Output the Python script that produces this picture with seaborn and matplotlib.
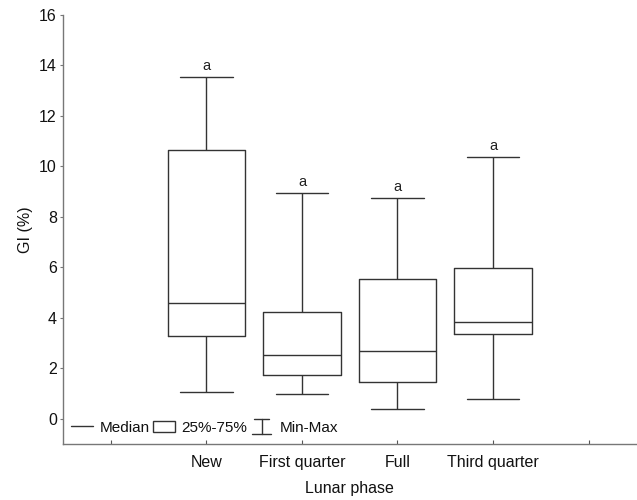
import numpy as np
import pandas as pd
import seaborn as sns
import matplotlib
matplotlib.use("Agg")
import matplotlib.pyplot as plt
from matplotlib.lines import Line2D
from matplotlib.patches import Rectangle
from matplotlib.legend_handler import HandlerBase

# ---- data ----
phases = ["New", "First quarter", "Full", "Third quarter"]
mins = [1.05, 0.97, 0.37, 0.77]
q1s = [3.28, 1.75, 1.45, 3.36]
medians = [4.58, 2.53, 2.67, 3.84]
q3s = [10.65, 4.22, 5.52, 5.97]
maxs = [13.56, 8.95, 8.75, 10.38]
letters = ["a", "a", "a", "a"]
yticks = [0, 2, 4, 6, 8, 10, 12, 14, 16]

rows = []
for p, a, b, c, d, e in zip(phases, mins, q1s, medians, q3s, maxs):
    for v in (a, b, c, d, e):
        rows.append({"phase": p, "gi": v})
df = pd.DataFrame(rows)
order = [""] + phases + [" "]

sns.set_theme(style="white")
plt.rcParams["font.family"] = ["Liberation Sans", "DejaVu Sans"]

fig = plt.figure(figsize=(6.37, 5.0), dpi=100)
ax = fig.add_axes([0.099, 0.112, 0.900, 0.858])

edge = "#333333"
sns.boxplot(data=df, x="phase", y="gi", order=order, whis=(0, 100),
            width=0.81, fill=False, color=edge, linecolor=edge,
            linewidth=1.0, capwidths=0.55, showfliers=False, ax=ax)

for i, (p, m, t) in enumerate(zip(phases, maxs, letters)):
    ax.annotate(t, xy=(order.index(p), m), xytext=(0, 2.5),
                textcoords="offset points", ha="center", va="bottom",
                fontsize=10.5, color="#222222")

ax.set_xlim(-0.5, 5.5)
ax.set_ylim(-1, 16)
ax.set_yticks(yticks)
ax.set_xticks(range(len(order)))
ax.set_xticklabels(order)
ax.tick_params(axis="y", left=True, direction="out", length=2.5, width=0.8,
               color="#777777", labelsize=11.5, labelcolor="#111111", pad=2)
ax.tick_params(axis="x", bottom=True, direction="in", length=3, width=0.8,
               color="#555555", labelsize=11.5, labelcolor="#111111", pad=8)
for s in ["top", "right"]:
    ax.spines[s].set_visible(False)
for s in ["left", "bottom"]:
    ax.spines[s].set_color("#777777")
    ax.spines[s].set_linewidth(1.0)
ax.set_xlabel("Lunar phase", fontsize=11.5, color="#111111", labelpad=8)
ax.set_ylabel("GI (%)", fontsize=11.5, color="#111111", labelpad=4)


class MinMaxHandler(HandlerBase):
    def create_artists(self, legend, orig_handle, xdescent, ydescent,
                       width, height, fontsize, trans):
        cx = width / 2 - xdescent
        y0 = -ydescent - 1.5
        y1 = -ydescent + height + 1.5
        cw = width * 0.42
        arts = [
            Line2D([cx, cx], [y0, y1], color=edge, lw=1.0),
            Line2D([cx - cw * 0.8, cx + cw * 0.8], [y1, y1], color=edge, lw=1.0),
            Line2D([cx - cw, cx + cw], [y0, y0], color=edge, lw=1.0),
        ]
        for a in arts:
            a.set_transform(trans)
        return arts


class MinMax:
    pass


handles = [Line2D([], [], color=edge, lw=1.0),
           Rectangle((0, 0), 1, 1, facecolor="white", edgecolor=edge, lw=1.0),
           MinMax()]
labels = ["Median", "25%-75%", "Min-Max"]
leg = ax.legend(handles, labels, loc="lower left", bbox_to_anchor=(-0.003, 0.0),
                ncol=3, frameon=False, fontsize=11, handlelength=1.45,
                handletextpad=0.45, columnspacing=0.2, borderpad=0.1,
                handler_map={MinMax: MinMaxHandler()})
for t in leg.get_texts():
    t.set_color("#111111")

fig.savefig("out.png", dpi=100)
